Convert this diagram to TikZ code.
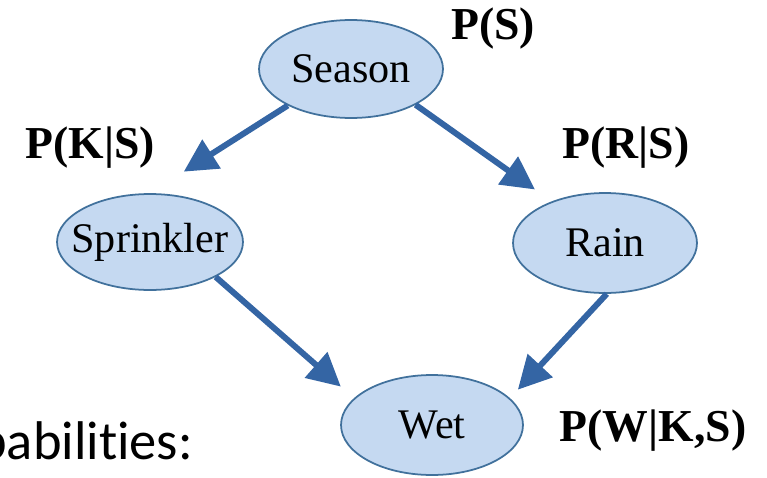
\documentclass[tikz,border=0pt]{standalone}
\usepackage{fontspec}
\setmainfont{Liberation Serif}
\newfontfamily\labelsans[Ligatures=NoCommon]{Carlito}
\usetikzlibrary{shapes.geometric,arrows.meta}
\definecolor{arrowblue}{RGB}{52,101,164}
\definecolor{edgeblue}{RGB}{65,113,156}
\definecolor{fillblue}{RGB}{197,217,241}
\newcommand{\varfont}{\rmfamily\fontsize{24}{28}\selectfont}
\newcommand{\probfont}{\rmfamily\fontsize{26}{30}\selectfont\bfseries}
\tikzset{
  varnode/.style={ellipse, draw=edgeblue, fill=fillblue, line width=1pt, inner sep=0pt,
    minimum width=3.68cm, minimum height=1.96cm, label={[font=\varfont]center:#1}},
  probtext/.style={font=\probfont, inner sep=0pt},
  link/.style={draw=arrowblue, line width=3.4pt, -{Triangle[length=0.66cm,width=0.66cm]}},
}
\begin{document}
\begin{tikzpicture}[x=0.02cm,y=-0.02cm]
		\useasboundingbox (0,0) rectangle (767,477);
		\clip (0,0) rectangle (767,477);
		\node[varnode=Season](season) at (351,69) {};
		\node[varnode=Sprinkler, minimum width=3.72cm, minimum height=1.92cm](sprinkler) at (150,242) {};
		\node[varnode=Rain, minimum height=2cm](rain) at (605,243) {};
		\node[varnode=Wet, minimum width=3.64cm, minimum height=2cm](wet) at (432,425) {};
		\node[probtext](pS) at (493,29) {P(S)};
		\node[probtext](pKS) at (90,148) {P(K|S)};
		\node[probtext](pRS) at (626,148) {P(R|S)};
		\node[probtext](pWKS) at (653,431) {P(W|K,S)};
		\node[anchor=base west, inner sep=0pt, font=\labelsans\fontsize{31}{36}\selectfont](probs) at (-22,459) {pabilities:};
		\draw[link, shorten >=0.8cm](season.210)--(sprinkler.90);
		\draw[link, shorten >=0.41cm](season.331)--(rain.142);
		\draw[link, shorten >=0.35cm](sprinkler.332)--(wet.161);
		\draw[link, shorten >=0.23cm](rain.272)--(wet.19);
		\end{tikzpicture}
\end{document}
